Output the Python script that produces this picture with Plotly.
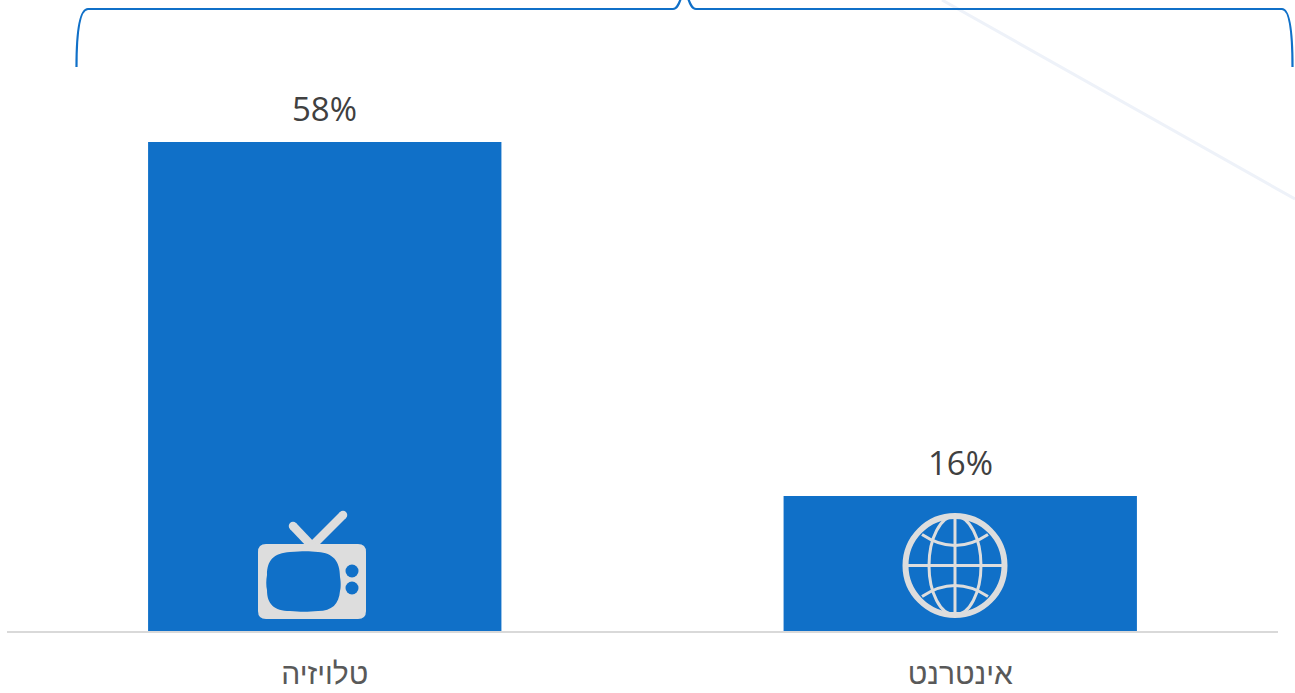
import math
import plotly.graph_objects as go

categories = ["טלויזיה", "אינטרנט"]
shares = [58, 16]
value_labels = ["58%", "16%"]

W, H = 1295, 693
BLUE = "#1070C8"
ICON = "#DDDDDD"
BASE_FONT = "Open Sans, Liberation Sans, DejaVu Sans, sans-serif"
HEBREW_FONT = "Liberation Sans, Open Sans, DejaVu Sans, sans-serif"


def px(x):
    return x / W


def py(y):
    return 1 - y / H


def path(*cmds):
    """Build an SVG path in paper units from (letter, x, y, x, y, ...) tuples."""
    out = []
    for c in cmds:
        letter, nums = c[0], c[1:]
        pts = [f"{px(nums[i]):.5f},{py(nums[i + 1]):.5f}" for i in range(0, len(nums), 2)]
        out.append(letter + " ".join(pts))
    return " ".join(out)


def closed(*cmds):
    return path(*cmds) + " Z"


def stroke_shape(d, color, width):
    return dict(type="path", xref="paper", yref="paper", path=d, layer="above",
                line=dict(color=color, width=width), fillcolor="rgba(0,0,0,0)")


def fill_shape(d, color):
    return dict(type="path", xref="paper", yref="paper", path=d, layer="above",
                line=dict(width=0), fillcolor=color)


def ellipse(cx, cy, rx, ry, line_color=None, width=0, fill=None):
    return dict(type="circle", xref="paper", yref="paper", layer="above",
                x0=px(cx - rx), x1=px(cx + rx), y0=py(cy + ry), y1=py(cy - ry),
                line=dict(color=line_color or "rgba(0,0,0,0)", width=width),
                fillcolor=fill or "rgba(0,0,0,0)")


def round_rect(x0, y0, x1, y1, r):
    return closed(("M", x0 + r, y0), ("L", x1 - r, y0), ("Q", x1, y0, x1, y0 + r),
                  ("L", x1, y1 - r), ("Q", x1, y1, x1 - r, y1), ("L", x0 + r, y1),
                  ("Q", x0, y1, x0, y1 - r), ("L", x0, y0 + r), ("Q", x0, y0, x0 + r, y0))


def rod(x0, y0, x1, y1, w, color):
    """Thick bar with rounded ends, drawn as a polygon and two end caps."""
    a = math.atan2(y1 - y0, x1 - x0)
    dx, dy = -math.sin(a) * w / 2, math.cos(a) * w / 2
    return [
        fill_shape(closed(("M", x0 + dx, y0 + dy), ("L", x1 + dx, y1 + dy),
                          ("L", x1 - dx, y1 - dy), ("L", x0 - dx, y0 - dy)), color),
        ellipse(x0, y0, w / 2, w / 2, fill=color),
        ellipse(x1, y1, w / 2, w / 2, fill=color),
    ]


shapes = []

# Faint diagonal streak behind the chart
shapes.append(dict(type="line", xref="paper", yref="paper", layer="below",
                   x0=px(942), y0=py(0), x1=px(1295), y1=py(199),
                   line=dict(color="#EEF2F9", width=3)))

# Brace spanning both columns
BRACE = "#1070C8"
shapes.append(stroke_shape(path(("M", 76.5, 67), ("C", 76.5, 35, 79, 9, 88, 9), ("L", 673, 9),
                                ("C", 677, 9, 679, 4, 681, -2)), BRACE, 2.2))
shapes.append(stroke_shape(path(("M", 688, -2), ("C", 690, 4, 692, 9, 696, 9), ("L", 1282, 9),
                                ("C", 1290, 9, 1292.5, 35, 1292.5, 67)), BRACE, 2.2))

# Television icon
shapes += rod(312, 546, 343, 515, 8.5, ICON)
shapes += rod(312, 546, 293, 526, 8.5, ICON)
shapes.append(fill_shape(round_rect(258, 544, 366, 619, 8), ICON))
shapes.append(fill_shape(closed(("M", 290, 552), ("C", 303, 551, 309, 551, 318, 552),
                                ("C", 333, 553, 340, 561, 340, 577), ("C", 341, 582, 341, 588, 340, 591),
                                ("C", 339, 604, 332, 611, 318, 611), ("C", 308, 612, 300, 612, 290, 611),
                                ("C", 274, 611, 267, 604, 267, 590), ("C", 266, 586, 266, 580, 267, 575),
                                ("C", 267, 560, 274, 553, 290, 552)), BLUE))
shapes.append(ellipse(352, 571, 6.5, 6.5, fill=BLUE))
shapes.append(ellipse(352, 588, 6.5, 6.5, fill=BLUE))

# Globe icon
GX, GY = 955, 565.5
shapes.append(ellipse(GX, GY, 49.5, 49.5, line_color=ICON, width=6))
shapes.append(ellipse(GX, GY, 26, 49.5, line_color=ICON, width=3))
shapes.append(stroke_shape(path(("M", GX, GY - 50), ("L", GX, GY + 50)), ICON, 3))
shapes.append(stroke_shape(path(("M", GX - 50, GY), ("L", GX + 50, GY)), ICON, 3))
shapes.append(stroke_shape(path(("M", GX - 33, GY - 31), ("Q", GX, GY - 9, GX + 33, GY - 31)), ICON, 3))
shapes.append(stroke_shape(path(("M", GX - 33, GY + 31), ("Q", GX, GY + 9, GX + 33, GY + 31)), ICON, 3))

fig = go.Figure(go.Bar(
    x=categories,
    y=shares,
    marker=dict(color=BLUE, line=dict(width=0)),
    hoverinfo="skip",
))

# Value labels sit a little above each column
for cat, share, label in zip(categories, shares, value_labels):
    fig.add_annotation(
        x=cat, y=share, text=label, showarrow=False,
        xanchor="center", yanchor="bottom", yshift=9,
        font=dict(family=BASE_FONT, size=33, color="#404040"),
    )

fig.update_layout(
    width=W,
    height=H,
    margin=dict(l=0, r=0, t=0, b=0),
    paper_bgcolor="#FFFFFF",
    plot_bgcolor="rgba(0,0,0,0)",
    showlegend=False,
    bargap=0.444,
    shapes=shapes,
    xaxis=dict(
        domain=[px(7), px(1278)],
        type="category",
        showgrid=False,
        showline=True,
        linecolor="#D9D9D9",
        linewidth=2,
        ticks="outside",
        ticklen=15,
        tickcolor="rgba(0,0,0,0)",
        tickfont=dict(family=HEBREW_FONT, size=30, color="#595959"),
        fixedrange=True,
    ),
    yaxis=dict(
        domain=[py(631), 1],
        range=[0, 631 / (489 / 58)],
        visible=False,
        fixedrange=True,
    ),
)

fig.write_html("out.html", config=dict(displayModeBar=False))
